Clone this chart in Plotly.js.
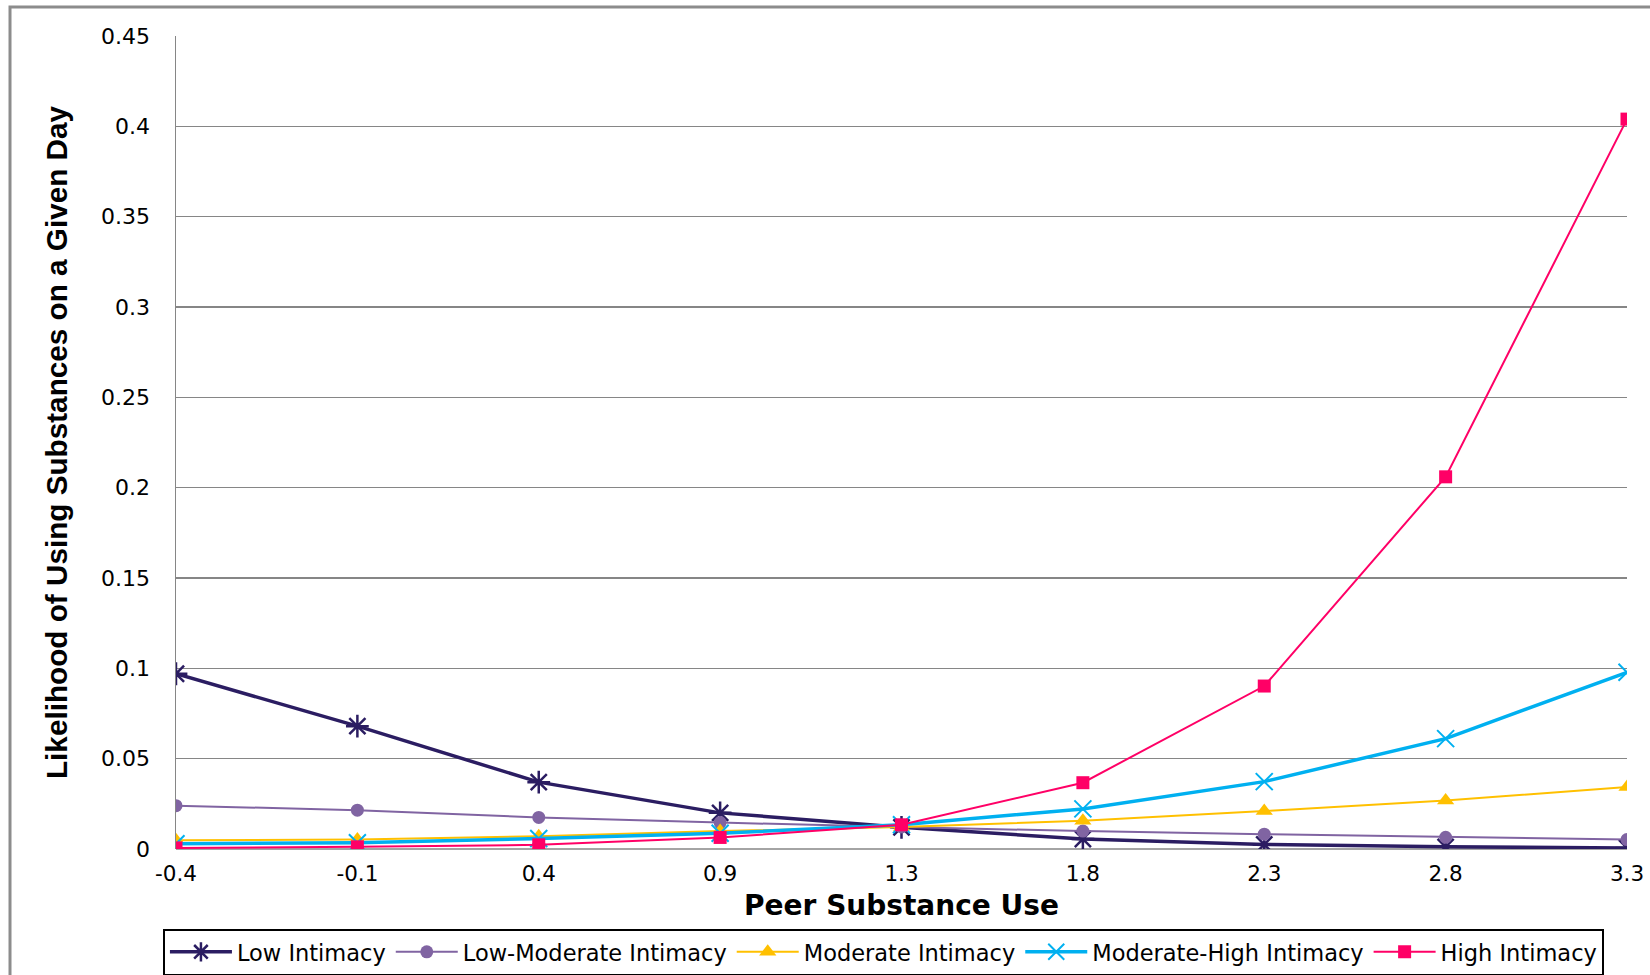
<!DOCTYPE html>
<html>
<head>
<meta charset="utf-8">
<script src="https://cdn.plot.ly/plotly-3.0.1.min.js"></script>
<style>html,body{margin:0;padding:0;background:#fff;}#chart{width:1650px;height:975px;}</style>
</head>
<body>
<div id="chart"></div>
<script>
const peerUse = ["-0.4", "-0.1", "0.4", "0.9", "1.3", "1.8", "2.3", "2.8", "3.3"];
const lowIntimacy = [0.097, 0.068, 0.037, 0.020, 0.012, 0.0055, 0.0025, 0.0012, 0.0006];
const lowModerateIntimacy = [0.024, 0.0215, 0.0175, 0.0146, 0.0122, 0.0099, 0.0082, 0.0065, 0.0052];
const moderateIntimacy = [0.0048, 0.0053, 0.0071, 0.0099, 0.0122, 0.0157, 0.021, 0.0268, 0.0343];
const moderateHighIntimacy = [0.0029, 0.0035, 0.0058, 0.0087, 0.0134, 0.0222, 0.0373, 0.0611, 0.0978];
const highIntimacy = [0.0006, 0.0012, 0.0023, 0.0064, 0.0134, 0.0367, 0.0902, 0.206, 0.404];
const seriesNames = ["Low Intimacy", "Low-Moderate Intimacy", "Moderate Intimacy", "Moderate-High Intimacy", "High Intimacy"];
const yTicks = [0, 0.05, 0.1, 0.15, 0.2, 0.25, 0.3, 0.35, 0.4, 0.45];

const styles = [
  {color: "#2B1D62", width: 3.5, symbol: "asterisk-open", size: 19, mline: 2.5},
  {color: "#8064A2", width: 2, symbol: "circle", size: 13, mline: 0},
  {color: "#FFC000", width: 2, symbol: "triangle-up", size: 15, mline: 0},
  {color: "#00B0F0", width: 3.5, symbol: "x-thin-open", size: 17, mline: 2},
  {color: "#FF0066", width: 2, symbol: "square", size: 13, mline: 0}
];
const values = [lowIntimacy, lowModerateIntimacy, moderateIntimacy, moderateHighIntimacy, highIntimacy];

const traces = values.map((v, i) => ({
  type: "scatter",
  mode: "lines+markers",
  name: seriesNames[i],
  x: peerUse,
  y: v,
  line: {color: styles[i].color, width: styles[i].width},
  marker: {symbol: styles[i].symbol, size: styles[i].size, color: styles[i].color,
           line: {color: styles[i].color, width: styles[i].mline}}
}));

const layout = {
  width: 1650, height: 975,
  margin: {l: 176, r: 23, t: 36, b: 126, autoexpand: false},
  paper_bgcolor: "#ffffff",
  plot_bgcolor: "#ffffff",
  showlegend: true,
  xaxis: {
    type: "category",
    range: [0, 8],
    showgrid: false,
    zeroline: false,
    showline: false,
    ticks: "",
    ticklabelstandoff: 9,
    tickfont: {family: "DejaVu Sans", size: 21.5, color: "#000"},
    title: {text: "Peer Substance Use", standoff: 10,
            font: {family: "DejaVu Sans", size: 28, color: "#000", weight: "bold"}}
  },
  yaxis: {
    range: [0, 0.45],
    tickvals: yTicks,
    ticktext: yTicks.map(String),
    showgrid: true,
    gridcolor: "#868686",
    gridwidth: 1.5,
    zeroline: false,
    showline: true,
    linecolor: "#868686",
    linewidth: 1.5,
    ticks: "",
    ticklabelstandoff: 20,
    tickfont: {family: "DejaVu Sans", size: 22, color: "#000"},
    title: {text: "Likelihood of Using Substances on a Given Day", standoff: 24,
            font: {family: "Liberation Sans", size: 29.7, color: "#000", weight: "bold"}}
  },
  legend: {
    orientation: "h",
    x: -0.009, xanchor: "left",
    y: -0.098, yanchor: "top",
    bordercolor: "#000000",
    borderwidth: 2,
    bgcolor: "#ffffff",
    itemwidth: 62,
    font: {family: "DejaVu Sans", size: 22.5, color: "#000"}
  },
  shapes: [
    {type: "rect", xref: "paper", yref: "paper", x0: -0.1144, x1: 1.2, y0: -0.3, y1: 1.0357,
     line: {color: "#8c8c8c", width: 3}, fillcolor: "rgba(0,0,0,0)", layer: "below"},
    {type: "line", xref: "paper", yref: "paper", x0: 0, x1: 1, y0: 0, y1: 0,
     line: {color: "#868686", width: 1.5}, layer: "below"}
  ]
};

Plotly.newPlot("chart", traces, layout, {displayModeBar: false, staticPlot: true});
</script>
</body>
</html>
